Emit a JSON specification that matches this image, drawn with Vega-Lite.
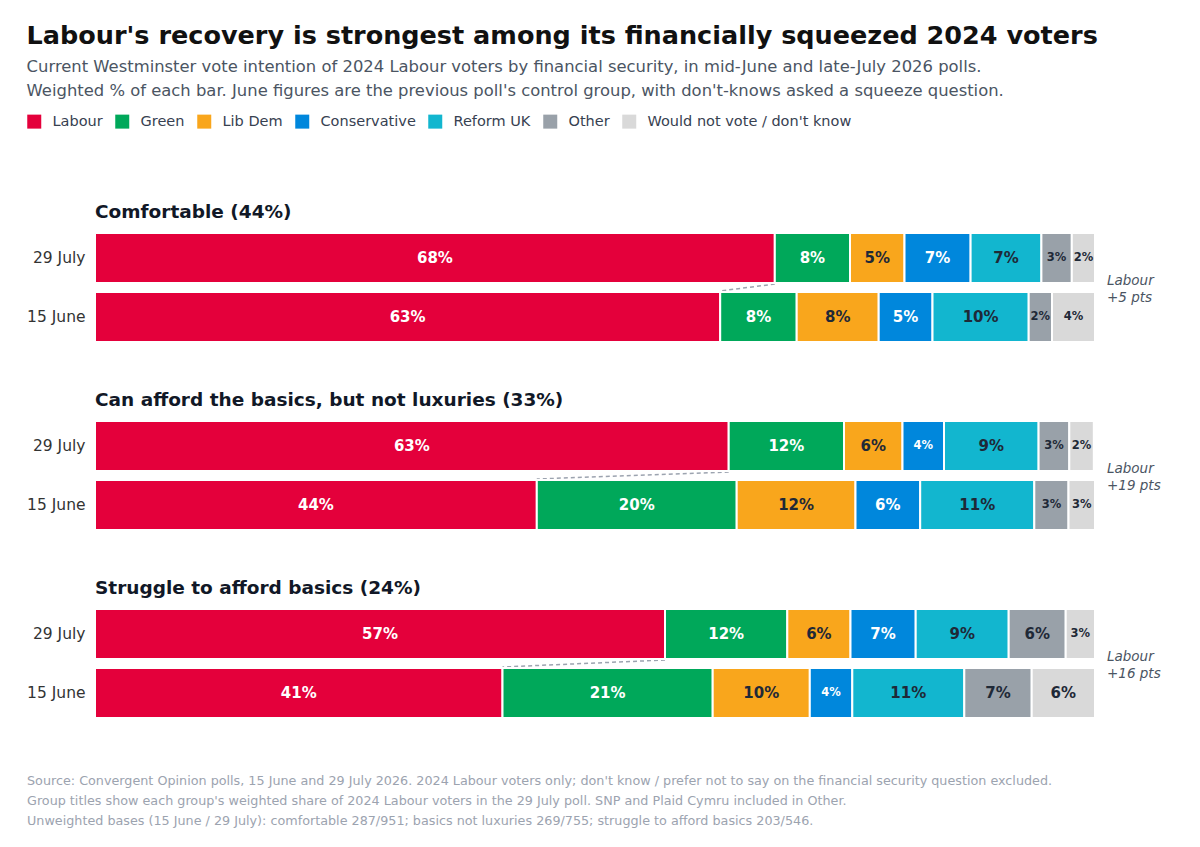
{
  "$schema": "https://vega.github.io/schema/vega-lite/v6.json",
  "background": "white",
  "padding": {"top": 24, "left": 26, "right": 20, "bottom": 20},
  "title": {
    "text": "Labour's recovery is strongest among its financially squeezed 2024 voters",
    "subtitle": [
      "Current Westminster vote intention of 2024 Labour voters by financial security, in mid-June and late-July 2026 polls.",
      "Weighted % of each bar. June figures are the previous poll's control group, with don't-knows asked a squeeze question."
    ],
    "anchor": "start",
    "frame": "bounds",
    "font": "DejaVu Sans",
    "fontSize": 25.5,
    "fontWeight": "bold",
    "color": "#111111",
    "subtitleFont": "DejaVu Sans",
    "subtitleFontSize": 16.4,
    "subtitleColor": "#4b5563",
    "subtitleLineHeight": 24,
    "subtitlePadding": 9,
    "offset": 15
  },
  "datasets": {
    "votes": [
      {"group": "Comfortable", "poll": "29 July", "party": "Labour", "pct": 67.98},
      {"group": "Comfortable", "poll": "29 July", "party": "Green", "pct": 7.52},
      {"group": "Comfortable", "poll": "29 July", "party": "Lib Dem", "pct": 5.45},
      {"group": "Comfortable", "poll": "29 July", "party": "Conservative", "pct": 6.61},
      {"group": "Comfortable", "poll": "29 July", "party": "Reform UK", "pct": 7.08},
      {"group": "Comfortable", "poll": "29 July", "party": "Other", "pct": 3.04},
      {"group": "Comfortable", "poll": "29 July", "party": "Would not vote / don't know", "pct": 2.32},
      {"group": "Comfortable", "poll": "15 June", "party": "Labour", "pct": 62.52},
      {"group": "Comfortable", "poll": "15 June", "party": "Green", "pct": 7.65},
      {"group": "Comfortable", "poll": "15 June", "party": "Lib Dem", "pct": 8.2},
      {"group": "Comfortable", "poll": "15 June", "party": "Conservative", "pct": 5.38},
      {"group": "Comfortable", "poll": "15 June", "party": "Reform UK", "pct": 9.62},
      {"group": "Comfortable", "poll": "15 June", "party": "Other", "pct": 2.33},
      {"group": "Comfortable", "poll": "15 June", "party": "Would not vote / don't know", "pct": 4.3},
      {"group": "Basics", "poll": "29 July", "party": "Labour", "pct": 63.37},
      {"group": "Basics", "poll": "29 July", "party": "Green", "pct": 11.53},
      {"group": "Basics", "poll": "29 July", "party": "Lib Dem", "pct": 5.85},
      {"group": "Basics", "poll": "29 July", "party": "Conservative", "pct": 4.15},
      {"group": "Basics", "poll": "29 July", "party": "Reform UK", "pct": 9.46},
      {"group": "Basics", "poll": "29 July", "party": "Other", "pct": 3.07},
      {"group": "Basics", "poll": "29 July", "party": "Would not vote / don't know", "pct": 2.45},
      {"group": "Basics", "poll": "15 June", "party": "Labour", "pct": 44.18},
      {"group": "Basics", "poll": "15 June", "party": "Green", "pct": 19.99},
      {"group": "Basics", "poll": "15 June", "party": "Lib Dem", "pct": 11.88},
      {"group": "Basics", "poll": "15 June", "party": "Conservative", "pct": 6.47},
      {"group": "Basics", "poll": "15 June", "party": "Reform UK", "pct": 11.41},
      {"group": "Basics", "poll": "15 June", "party": "Other", "pct": 3.42},
      {"group": "Basics", "poll": "15 June", "party": "Would not vote / don't know", "pct": 2.65},
      {"group": "Struggle", "poll": "29 July", "party": "Labour", "pct": 57.0},
      {"group": "Struggle", "poll": "29 July", "party": "Green", "pct": 12.23},
      {"group": "Struggle", "poll": "29 July", "party": "Lib Dem", "pct": 6.32},
      {"group": "Struggle", "poll": "29 July", "party": "Conservative", "pct": 6.52},
      {"group": "Struggle", "poll": "29 July", "party": "Reform UK", "pct": 9.3},
      {"group": "Struggle", "poll": "29 July", "party": "Other", "pct": 5.7},
      {"group": "Struggle", "poll": "29 July", "party": "Would not vote / don't know", "pct": 2.93},
      {"group": "Struggle", "poll": "15 June", "party": "Labour", "pct": 40.75},
      {"group": "Struggle", "poll": "15 June", "party": "Green", "pct": 21.02},
      {"group": "Struggle", "poll": "15 June", "party": "Lib Dem", "pct": 9.71},
      {"group": "Struggle", "poll": "15 June", "party": "Conservative", "pct": 4.25},
      {"group": "Struggle", "poll": "15 June", "party": "Reform UK", "pct": 11.2},
      {"group": "Struggle", "poll": "15 June", "party": "Other", "pct": 6.74},
      {"group": "Struggle", "poll": "15 June", "party": "Would not vote / don't know", "pct": 6.33}
    ]
  },
  "spacing": 46,
  "resolve": {"scale": {"color": "shared"}, "legend": {"color": "shared"}},
  "vconcat": [
    {
      "title": {"text": "Comfortable (44%)", "anchor": "start", "frame": "group", "dx": 68, "font": "DejaVu Sans", "fontSize": 18.5, "fontWeight": "bold", "color": "#111827", "offset": 11},
      "width": 1068,
      "height": 109,
      "data": {"name": "votes"},
      "transform": [
        {"filter": "datum.group === 'Comfortable'"},
        {"calculate": "indexof(['Labour','Green','Lib Dem','Conservative','Reform UK','Other',\"Would not vote / don't know\"], datum.party)", "as": "rank"},
        {"stack": "pct", "groupby": ["poll"], "sort": [{"field": "rank", "order": "ascending"}], "as": ["start", "end"]},
        {"calculate": "(datum.start + datum.end) / 2", "as": "mid"},
        {"calculate": "format(datum.pct, '.0f') + '%'", "as": "label"}
      ],
      "layer": [
        {
          "transform": [{"filter": "datum.party === 'Labour'"}, {"pivot": "poll", "value": "pct", "groupby": ["group"]}],
          "mark": {"type": "rule", "color": "#9ca3af", "strokeWidth": 1.5, "strokeDash": [4, 3], "yOffset": 26, "y2Offset": -26},
          "encoding": {
            "x": {"field": "29 July", "type": "quantitative"},
            "x2": {"field": "15 June"},
            "y": {"datum": "29 July", "type": "nominal"},
            "y2": {"datum": "15 June"}
          }
        },
        {
          "mark": {"type": "bar", "stroke": "white", "strokeWidth": 2},
          "encoding": {
            "y": {"field": "poll", "type": "nominal", "title": null, "scale": {"domain": ["29 July", "15 June"], "paddingInner": 0.1525, "paddingOuter": 0}},
            "x": {"field": "start", "type": "quantitative", "scale": {"domain": [-6.8, 100], "nice": false, "zero": false}, "axis": null},
            "x2": {"field": "end"},
            "color": {
              "field": "party", "type": "nominal", "title": null,
              "scale": {
                "domain": ["Labour", "Green", "Lib Dem", "Conservative", "Reform UK", "Other", "Would not vote / don't know"],
                "range": ["#e4003b", "#00a85a", "#f9a61c", "#0087dc", "#12b6cf", "#99a1a9", "#d9d9d9"]
              }
            }
          }
        },
        {
          "mark": {"type": "text", "fontWeight": "bold", "font": "DejaVu Sans", "baseline": "middle", "align": "center"},
          "encoding": {
            "y": {"field": "poll", "type": "nominal"},
            "x": {"field": "mid", "type": "quantitative"},
            "text": {"field": "label"},
            "size": {"condition": {"test": "datum.pct < 5", "value": 11.5}, "value": 15},
            "color": {"condition": {"test": "indexof(['Labour','Green','Conservative'], datum.party) >= 0", "value": "#ffffff"}, "value": "#1f2937"}
          }
        },
        {
          "transform": [
            {"filter": "datum.party === 'Labour'"},
            {"pivot": "poll", "value": "pct", "groupby": ["group"]},
            {"calculate": "['Labour', '+' + format(datum['29 July'] - datum['15 June'], '.0f') + ' pts']", "as": "note"}
          ],
          "mark": {"type": "text", "align": "left", "baseline": "middle", "dx": 12, "yOffset": 23, "fontStyle": "italic", "fontSize": 13.5, "lineHeight": 17, "color": "#4b5563", "font": "DejaVu Sans"},
          "encoding": {
            "x": {"datum": 100, "type": "quantitative"},
            "y": {"datum": "29 July", "type": "nominal"},
            "text": {"field": "note"}
          }
        }
      ]
    },
    {
      "title": {"text": "Can afford the basics, but not luxuries (33%)", "anchor": "start", "frame": "group", "dx": 68, "font": "DejaVu Sans", "fontSize": 18.5, "fontWeight": "bold", "color": "#111827", "offset": 11},
      "width": 1068,
      "height": 109,
      "data": {"name": "votes"},
      "transform": [
        {"filter": "datum.group === 'Basics'"},
        {"calculate": "indexof(['Labour','Green','Lib Dem','Conservative','Reform UK','Other',\"Would not vote / don't know\"], datum.party)", "as": "rank"},
        {"stack": "pct", "groupby": ["poll"], "sort": [{"field": "rank", "order": "ascending"}], "as": ["start", "end"]},
        {"calculate": "(datum.start + datum.end) / 2", "as": "mid"},
        {"calculate": "format(datum.pct, '.0f') + '%'", "as": "label"}
      ],
      "layer": [
        {
          "transform": [{"filter": "datum.party === 'Labour'"}, {"pivot": "poll", "value": "pct", "groupby": ["group"]}],
          "mark": {"type": "rule", "color": "#9ca3af", "strokeWidth": 1.5, "strokeDash": [4, 3], "yOffset": 26, "y2Offset": -26},
          "encoding": {
            "x": {"field": "29 July", "type": "quantitative"},
            "x2": {"field": "15 June"},
            "y": {"datum": "29 July", "type": "nominal"},
            "y2": {"datum": "15 June"}
          }
        },
        {
          "mark": {"type": "bar", "stroke": "white", "strokeWidth": 2},
          "encoding": {
            "y": {"field": "poll", "type": "nominal", "title": null, "scale": {"domain": ["29 July", "15 June"], "paddingInner": 0.1525, "paddingOuter": 0}},
            "x": {"field": "start", "type": "quantitative", "scale": {"domain": [-6.8, 100], "nice": false, "zero": false}, "axis": null},
            "x2": {"field": "end"},
            "color": {
              "field": "party", "type": "nominal", "title": null,
              "scale": {
                "domain": ["Labour", "Green", "Lib Dem", "Conservative", "Reform UK", "Other", "Would not vote / don't know"],
                "range": ["#e4003b", "#00a85a", "#f9a61c", "#0087dc", "#12b6cf", "#99a1a9", "#d9d9d9"]
              }
            }
          }
        },
        {
          "mark": {"type": "text", "fontWeight": "bold", "font": "DejaVu Sans", "baseline": "middle", "align": "center"},
          "encoding": {
            "y": {"field": "poll", "type": "nominal"},
            "x": {"field": "mid", "type": "quantitative"},
            "text": {"field": "label"},
            "size": {"condition": {"test": "datum.pct < 5", "value": 11.5}, "value": 15},
            "color": {"condition": {"test": "indexof(['Labour','Green','Conservative'], datum.party) >= 0", "value": "#ffffff"}, "value": "#1f2937"}
          }
        },
        {
          "transform": [
            {"filter": "datum.party === 'Labour'"},
            {"pivot": "poll", "value": "pct", "groupby": ["group"]},
            {"calculate": "['Labour', '+' + format(datum['29 July'] - datum['15 June'], '.0f') + ' pts']", "as": "note"}
          ],
          "mark": {"type": "text", "align": "left", "baseline": "middle", "dx": 12, "yOffset": 23, "fontStyle": "italic", "fontSize": 13.5, "lineHeight": 17, "color": "#4b5563", "font": "DejaVu Sans"},
          "encoding": {
            "x": {"datum": 100, "type": "quantitative"},
            "y": {"datum": "29 July", "type": "nominal"},
            "text": {"field": "note"}
          }
        }
      ]
    },
    {
      "title": {"text": "Struggle to afford basics (24%)", "anchor": "start", "frame": "group", "dx": 68, "font": "DejaVu Sans", "fontSize": 18.5, "fontWeight": "bold", "color": "#111827", "offset": 11},
      "width": 1068,
      "height": 109,
      "data": {"name": "votes"},
      "transform": [
        {"filter": "datum.group === 'Struggle'"},
        {"calculate": "indexof(['Labour','Green','Lib Dem','Conservative','Reform UK','Other',\"Would not vote / don't know\"], datum.party)", "as": "rank"},
        {"stack": "pct", "groupby": ["poll"], "sort": [{"field": "rank", "order": "ascending"}], "as": ["start", "end"]},
        {"calculate": "(datum.start + datum.end) / 2", "as": "mid"},
        {"calculate": "format(datum.pct, '.0f') + '%'", "as": "label"}
      ],
      "layer": [
        {
          "transform": [{"filter": "datum.party === 'Labour'"}, {"pivot": "poll", "value": "pct", "groupby": ["group"]}],
          "mark": {"type": "rule", "color": "#9ca3af", "strokeWidth": 1.5, "strokeDash": [4, 3], "yOffset": 26, "y2Offset": -26},
          "encoding": {
            "x": {"field": "29 July", "type": "quantitative"},
            "x2": {"field": "15 June"},
            "y": {"datum": "29 July", "type": "nominal"},
            "y2": {"datum": "15 June"}
          }
        },
        {
          "mark": {"type": "bar", "stroke": "white", "strokeWidth": 2},
          "encoding": {
            "y": {"field": "poll", "type": "nominal", "title": null, "scale": {"domain": ["29 July", "15 June"], "paddingInner": 0.1525, "paddingOuter": 0}},
            "x": {"field": "start", "type": "quantitative", "scale": {"domain": [-6.8, 100], "nice": false, "zero": false}, "axis": null},
            "x2": {"field": "end"},
            "color": {
              "field": "party", "type": "nominal", "title": null,
              "scale": {
                "domain": ["Labour", "Green", "Lib Dem", "Conservative", "Reform UK", "Other", "Would not vote / don't know"],
                "range": ["#e4003b", "#00a85a", "#f9a61c", "#0087dc", "#12b6cf", "#99a1a9", "#d9d9d9"]
              }
            }
          }
        },
        {
          "mark": {"type": "text", "fontWeight": "bold", "font": "DejaVu Sans", "baseline": "middle", "align": "center"},
          "encoding": {
            "y": {"field": "poll", "type": "nominal"},
            "x": {"field": "mid", "type": "quantitative"},
            "text": {"field": "label"},
            "size": {"condition": {"test": "datum.pct < 5", "value": 11.5}, "value": 15},
            "color": {"condition": {"test": "indexof(['Labour','Green','Conservative'], datum.party) >= 0", "value": "#ffffff"}, "value": "#1f2937"}
          }
        },
        {
          "transform": [
            {"filter": "datum.party === 'Labour'"},
            {"pivot": "poll", "value": "pct", "groupby": ["group"]},
            {"calculate": "['Labour', '+' + format(datum['29 July'] - datum['15 June'], '.0f') + ' pts']", "as": "note"}
          ],
          "mark": {"type": "text", "align": "left", "baseline": "middle", "dx": 12, "yOffset": 23, "fontStyle": "italic", "fontSize": 13.5, "lineHeight": 17, "color": "#4b5563", "font": "DejaVu Sans"},
          "encoding": {
            "x": {"datum": 100, "type": "quantitative"},
            "y": {"datum": "29 July", "type": "nominal"},
            "text": {"field": "note"}
          }
        }
      ]
    },
    {
      "width": 1068,
      "height": 70,
      "data": {"values": [
        {"line": 1, "text": "Source: Convergent Opinion polls, 15 June and 29 July 2026. 2024 Labour voters only; don't know / prefer not to say on the financial security question excluded."},
        {"line": 2, "text": "Group titles show each group's weighted share of 2024 Labour voters in the 29 July poll. SNP and Plaid Cymru included in Other."},
        {"line": 3, "text": "Unweighted bases (15 June / 29 July): comfortable 287/951; basics not luxuries 269/755; struggle to afford basics 203/546."}
      ]},
      "mark": {"type": "text", "align": "left", "baseline": "middle", "fontSize": 12.75, "color": "#9ca3af", "font": "DejaVu Sans"},
      "encoding": {
        "y": {"field": "line", "type": "ordinal", "axis": null, "scale": {"type": "band", "paddingInner": 0, "paddingOuter": 0.25}},
        "x": {"value": 0},
        "text": {"field": "text"}
      }
    }
  ],
  "config": {
    "font": "DejaVu Sans",
    "view": {"stroke": null},
    "axis": {"domain": false, "ticks": false, "labelFontSize": 15.5, "labelColor": "#333333", "labelPadding": 10, "labelFont": "DejaVu Sans", "title": null},
    "axisY": {"offset": -68},
    "legend": {
      "orient": "top",
      "direction": "horizontal",
      "title": null,
      "symbolType": "square",
      "symbolSize": 196,
      "symbolStrokeWidth": 0,
      "symbolOpacity": 1,
      "labelFontSize": 14.5,
      "labelFont": "DejaVu Sans",
      "labelColor": "#374151",
      "labelOffset": 11,
      "labelLimit": 400,
      "columnPadding": 12,
      "offset": 73
    }
  }
}
